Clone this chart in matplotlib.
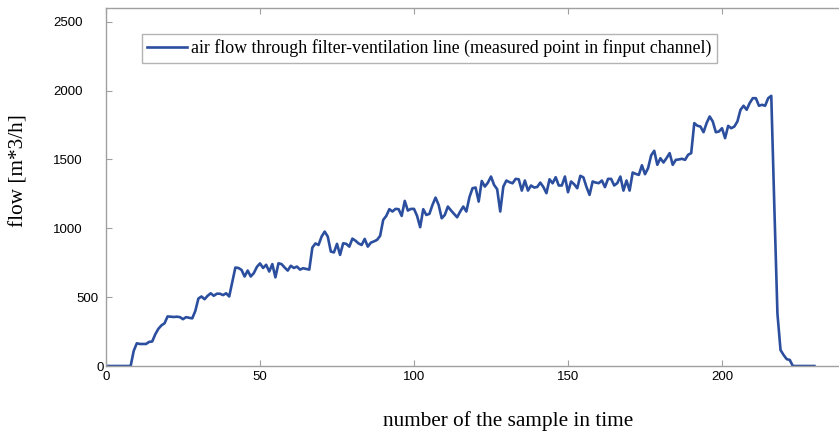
import numpy as np
import matplotlib
matplotlib.use("Agg")
import matplotlib.pyplot as plt
from matplotlib.transforms import ScaledTranslation

# air flow readings, one per sample
flow = [
    0, 0, 0, 0, 0, 0, 0, 0, 0, 110,
    165, 160, 160, 160, 175, 178, 230, 270, 295, 310,
    360, 358, 356, 358, 355, 340, 355, 350, 346, 400,
    490, 505, 485, 510, 528, 510, 525, 525, 515, 528,
    505, 610, 715, 712, 698, 650, 693, 650, 675, 720,
    745, 712, 735, 686, 740, 644, 746, 740, 715, 693,
    728, 712, 722, 700, 710, 705, 700, 860, 890, 879,
    940, 976, 940, 831, 825, 887, 807, 891, 887, 867,
    925, 910, 890, 879, 923, 867, 896, 905, 916, 945,
    1061, 1090, 1139, 1122, 1141, 1139, 1090, 1199, 1129, 1141,
    1141, 1090, 1008, 1139, 1097, 1105, 1170, 1223, 1170, 1073,
    1097, 1158, 1130, 1105, 1080, 1122, 1158, 1122, 1226, 1291,
    1296, 1194, 1344, 1303, 1332, 1376, 1315, 1284, 1122, 1303,
    1347, 1335, 1327, 1359, 1356, 1274, 1347, 1274, 1311, 1296,
    1300, 1332, 1300, 1255, 1356, 1327, 1371, 1311, 1311, 1376,
    1262, 1340, 1320, 1291, 1381, 1370, 1300, 1243, 1340, 1332,
    1328, 1347, 1299, 1359, 1359, 1311, 1328, 1376, 1274, 1347,
    1274, 1405, 1395, 1388, 1458, 1393, 1437, 1530, 1563, 1461,
    1509, 1478, 1510, 1546, 1461, 1497, 1500, 1505, 1497, 1534,
    1546, 1764, 1745, 1739, 1698, 1764, 1812, 1776, 1698, 1703,
    1727, 1655, 1744, 1727, 1739, 1776, 1860, 1890, 1861, 1910,
    1945, 1945, 1890, 1897, 1890, 1945, 1962, 1150, 380, 116,
    80, 50, 44, 0, 0, 0, 0, 0, 0, 0,
    0,
]
samples = np.arange(len(flow))

xticks = [0, 50, 100, 150, 200]
yticks = [0, 500, 1000, 1500, 2000, 2500]
ytick_labels = ["0", "500", "1000", "1500", "2000", "2500"]

gray = "#a0a0a0"
blue = "#2b4f9e"

fig = plt.figure(figsize=(8.39, 4.36), dpi=100)
# axes runs past the right edge, like the cropped original
ax = fig.add_axes([106 / 839, 70 / 436, 770 / 839, 358 / 436])

ax.plot(samples, flow, color=blue, linewidth=1.9,
        label="air flow through filter-ventilation line (measured point in finput channel)")

ax.set_xlim(0, 250)
ax.set_ylim(0, 2600)
ax.set_xticks(xticks)
ax.set_yticks(yticks)
ax.set_yticklabels(ytick_labels)

for s in ax.spines.values():
    s.set_color(gray)
    s.set_linewidth(1.0)
ax.tick_params(direction="in", length=4.3, width=0.8, color=gray,
               top=True, right=True, labelsize=9.5, labelcolor="black")
ax.tick_params(axis="y", pad=17.0)
ax.tick_params(axis="x", pad=3.5)
for lab in ax.get_xticklabels() + ax.get_yticklabels():
    lab.set_fontfamily("Liberation Sans")

# short labels sit closer to the axis in the original
shift = {"0": 0.21, "500": 0.16}
for lab in ax.get_yticklabels():
    dx = shift.get(lab.get_text(), 0)
    if dx:
        lab.set_transform(lab.get_transform() + ScaledTranslation(dx, 0, fig.dpi_scale_trans))

fig.text(508 / 839, 1 - 421 / 436, "number of the sample in time",
         family="Liberation Serif", fontsize=15.3, ha="center", va="center")
fig.text(19 / 839, 1 - 171 / 436, "flow [m*3/h]", rotation=90,
         family="Liberation Serif", fontsize=15.3, ha="center", va="center")

leg = ax.legend(loc="upper left", bbox_to_anchor=(36 / 770, 332 / 358),
                borderaxespad=0, frameon=True, fancybox=False,
                prop={"family": "Liberation Serif", "size": 12.9},
                handlelength=2.2, handletextpad=0.25, borderpad=0.3)
leg.get_frame().set_edgecolor(gray)
leg.get_frame().set_linewidth(1.0)

fig.savefig("out.png", dpi=100)
